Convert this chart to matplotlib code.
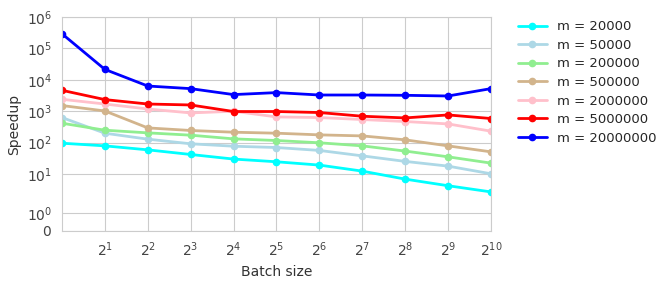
import matplotlib
matplotlib.use("Agg")
import matplotlib.pyplot as plt
import seaborn as sns

batch_sizes = [2 ** k for k in range(11)]

labels = ["m = 20000", "m = 50000", "m = 200000", "m = 500000",
          "m = 2000000", "m = 5000000", "m = 20000000"]
colors = ["cyan", "lightblue", "lightgreen", "tan", "pink", "red", "blue"]

speedup_20k = [96, 79, 59, 42, 30, 24.6, 19.3, 12.4, 6.9, 4.25, 2.7]
speedup_50k = [630, 200, 129, 92, 77, 70, 56.5, 38, 25.3, 17.9, 10.2]
speedup_200k = [416, 249, 205, 173, 132, 117, 99, 79, 54, 35.4, 22.3]
speedup_500k = [1520, 1020, 295, 244, 215, 200, 177, 164, 123, 79, 51]
speedup_2m = [2400, 1700, 1180, 884, 1000, 660, 630, 545, 471, 395, 232]
speedup_5m = [4640, 2350, 1700, 1585, 980, 980, 910, 694, 613, 763, 587]
speedup_20m = [293000, 21500, 6360, 5250, 3390, 3925, 3290, 3290, 3220, 3060, 5250]

series = [speedup_20k, speedup_50k, speedup_200k, speedup_500k,
          speedup_2m, speedup_5m, speedup_20m]

sns.set_style("whitegrid")
plt.rcParams["font.family"] = ["DejaVu Sans"]

fig = plt.figure(figsize=(6.65, 2.84), dpi=100)
ax = fig.add_axes([0.0932, 0.187, 0.645, 0.753])

for vals, lab, col in zip(series, labels, colors):
    ax.plot(batch_sizes, vals, color=col, label=lab, lw=2, marker="o", ms=4.5)

ax.set_xscale("log", base=2)
ax.set_yscale("symlog")
ax.set_xlim(1, 1024)
ax.set_ylim(0, 1e6)
ax.set_xticks([2 ** k for k in range(1, 11)])
ax.minorticks_off()
ax.tick_params(labelsize=10, colors="#444444")
ax.set_xlabel("Batch size", fontsize=10, color="#333333")
ax.set_ylabel("Speedup", fontsize=10, color="#333333")

ax.legend(loc="upper left", bbox_to_anchor=(1.035, 1.04), frameon=False,
          fontsize=9.5, handlelength=2.2, labelspacing=0.42)

fig.savefig("out.png", dpi=100)
